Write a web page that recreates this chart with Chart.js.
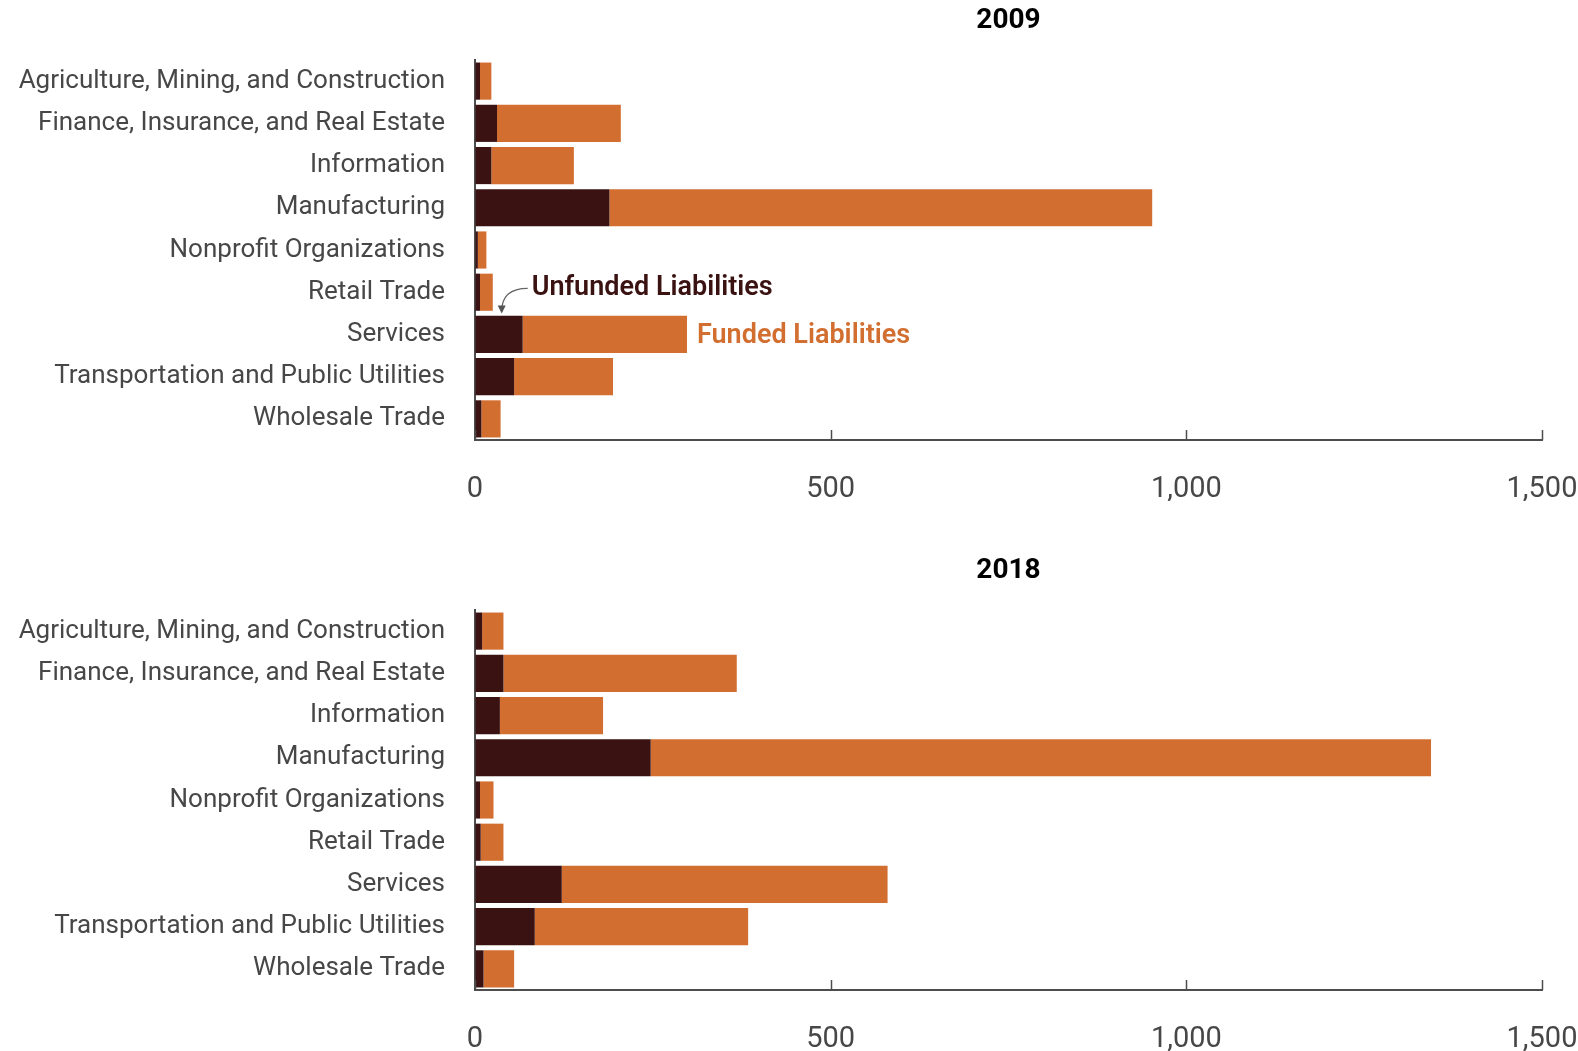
<!DOCTYPE html>
<html>
<head>
<meta charset="utf-8">
<script src="https://cdn.jsdelivr.net/npm/chart.js@4.4.1/dist/chart.umd.min.js"></script>
<style>
  html, body { margin:0; padding:0; background:#fff; }
  .chart-box { position:absolute; left:0; width:1578px; height:501px; }
  #box2009 { top:0; }
  #box2018 { top:550px; }
</style>
</head>
<body>
<div class="chart-box" id="box2009"><canvas id="chart2009"></canvas></div>
<div class="chart-box" id="box2018"><canvas id="chart2018"></canvas></div>
<script>
// data
const categories = [
  'Agriculture, Mining, and Construction',
  'Finance, Insurance, and Real Estate',
  'Information',
  'Manufacturing',
  'Nonprofit Organizations',
  'Retail Trade',
  'Services',
  'Transportation and Public Utilities',
  'Wholesale Trade'
];
const unfunded2009 = [7, 31, 23, 189, 4, 7, 67, 55, 9];
const funded2009   = [16, 174, 116, 763, 12, 18, 231, 139, 27];
const unfunded2018 = [10, 40, 35, 247, 7, 8, 122, 84, 12];
const funded2018   = [30, 328, 145, 1097, 19, 32, 458, 300, 43];
const xTicks = [0, 500, 1000, 1500];

// colours
const DARK   = '#3b1212';
const ORANGE = '#d26e30';
const AXIS   = '#4d4d4d';
const LABEL  = '#474747';
const FONT   = 'Roboto, "Open Sans", sans-serif';

// title + inward tick marks + annotations
const extras = {
  id: 'extras',
  afterDraw(chart, args, opts) {
    const {ctx, chartArea: a, scales: {x, y}} = chart;
    ctx.save();
    // title centred over the plot area
    ctx.fillStyle = '#000';
    ctx.font = 'bold 28px ' + FONT;
    ctx.textAlign = 'center';
    ctx.textBaseline = 'middle';
    ctx.fillText(opts.title, (a.left + a.right) / 2, 21);
    // ticks pointing up from the x axis
    ctx.strokeStyle = AXIS;
    ctx.lineWidth = 1.5;
    xTicks.forEach(v => {
      const px = Math.round(x.getPixelForValue(v)) + 0.5;
      ctx.beginPath();
      ctx.moveTo(px, a.bottom);
      ctx.lineTo(px, a.bottom - 10);
      ctx.stroke();
    });
    if (opts.notes) {
      const i = categories.indexOf('Services');
      const u = opts.unfunded[i], f = opts.funded[i];
      const cy = y.getPixelForValue(i);
      // Funded label right of the Services bar
      ctx.textAlign = 'left';
      ctx.font = '600 27px ' + FONT;
      ctx.fillStyle = ORANGE;
      ctx.fillText('Funded Liabilities', x.getPixelForValue(u + f) + 10, cy + 2);
      // Unfunded label with curved arrow to the dark segment
      const tipX = x.getPixelForValue(u * 0.55) + 0.5;
      const tipY = cy - 21;
      ctx.fillStyle = DARK;
      ctx.fillText('Unfunded Liabilities', tipX + 30, cy - 46);
      ctx.strokeStyle = '#666';
      ctx.lineWidth = 1.3;
      ctx.beginPath();
      ctx.moveTo(tipX + 26, cy - 46);
      ctx.quadraticCurveTo(tipX, cy - 46, tipX, tipY - 2);
      ctx.stroke();
      ctx.fillStyle = '#555';
      ctx.beginPath();
      ctx.moveTo(tipX, tipY);
      ctx.lineTo(tipX - 4, tipY - 8);
      ctx.lineTo(tipX + 4, tipY - 8);
      ctx.closePath();
      ctx.fill();
    }
    ctx.restore();
  }
};

function makeChart(id, title, unfunded, funded, notes) {
  const el = document.getElementById(id);
  const box = el.parentElement;
  el.style.width = box.clientWidth + 'px';
  el.style.height = box.clientHeight + 'px';
  return new Chart(el, {
    type: 'bar',
    data: {
      labels: categories,
      datasets: [
        { label: 'Unfunded Liabilities', data: unfunded, backgroundColor: DARK },
        { label: 'Funded Liabilities', data: funded, backgroundColor: ORANGE }
      ]
    },
    options: {
      indexAxis: 'y',
      responsive: true,
      maintainAspectRatio: false,
      animation: false,
      devicePixelRatio: 1,
      layout: { padding: { top: 60, right: 36, left: 0, bottom: 0 } },
      datasets: { bar: { barPercentage: 0.88, categoryPercentage: 1 } },
      plugins: {
        legend: { display: false },
        tooltip: { enabled: false },
        extras: { title, unfunded, funded, notes }
      },
      scales: {
        x: {
          stacked: true,
          min: 0, max: 1500,
          afterBuildTicks: s => { s.ticks = xTicks.map(v => ({ value: v })); },
          afterFit: s => { s.height = 61; s.paddingLeft = 0; s.paddingRight = 0; },
          grid: { display: true, drawOnChartArea: false, drawTicks: false },
          border: { display: true, color: AXIS, width: 2 },
          ticks: {
            padding: 32,
            color: LABEL,
            font: { family: FONT, size: 29 },
            callback: v => v.toLocaleString('en-US')
          }
        },
        y: {
          stacked: true,
          afterFit: s => { s.width = 475; },
          grid: { display: true, drawOnChartArea: false, drawTicks: false },
          border: { display: true, color: AXIS, width: 2 },
          ticks: {
            padding: 30,
            color: LABEL,
            font: { family: FONT, size: 26 },
            autoSkip: false
          }
        }
      }
    },
    plugins: [extras]
  });
}

makeChart('chart2009', '2009', unfunded2009, funded2009, true);
makeChart('chart2018', '2018', unfunded2018, funded2018, false);
</script>
</body>
</html>
